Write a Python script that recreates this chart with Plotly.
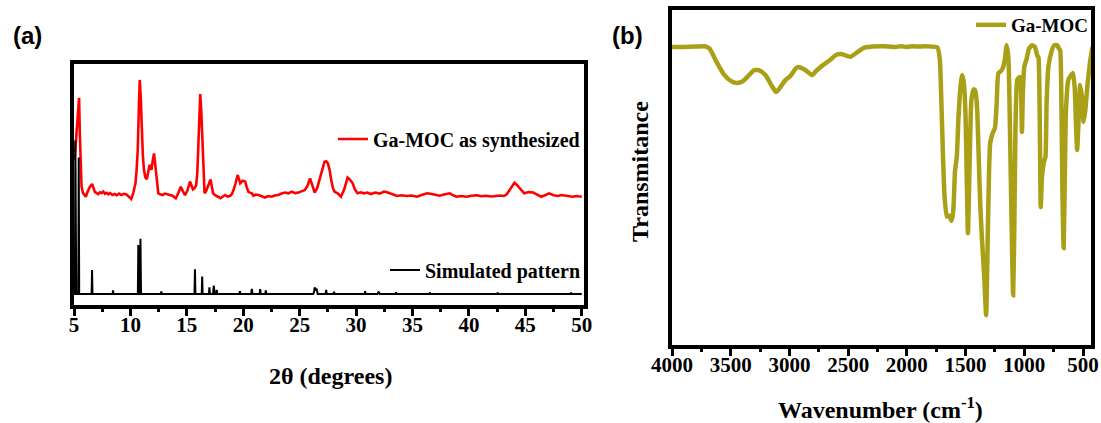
import plotly.graph_objects as go

# ---------------- (a) PXRD ----------------
# Ga-MOC as synthesized (2theta, relative intensity)
pxrd_exp_2theta = [5.05, 5.2, 5.3, 5.38, 5.45, 5.52, 5.6, 5.67, 5.8, 5.92, 6.05, 6.2, 6.4, 6.6, 6.72, 6.85,
                   7.0, 7.15, 7.3, 7.45, 7.6, 7.75, 7.9, 8.05, 8.2, 8.4, 8.6, 8.8, 9.0, 9.2, 9.4, 9.6, 9.8,
                   10.07, 10.25, 10.45, 10.55, 10.65, 10.75, 10.83, 10.92, 11.0, 11.1, 11.2, 11.32, 11.45,
                   11.58, 11.7, 11.8, 11.87, 11.97, 12.09, 12.18, 12.27, 12.37, 12.47, 12.65, 12.85, 13.05,
                   13.3, 13.5, 13.73, 13.9, 14.02, 14.25, 14.46, 14.65, 14.84, 15.05, 15.28, 15.42, 15.54,
                   15.7, 15.83, 15.93, 16.0, 16.1, 16.19, 16.28, 16.36, 16.47, 16.57, 16.7, 16.8, 16.95,
                   17.1, 17.22, 17.33, 17.5, 17.68, 17.85, 17.98, 18.2, 18.4, 18.6, 18.85, 19.0, 19.14,
                   19.32, 19.5, 19.62, 19.73, 19.95, 20.17, 20.3, 20.46, 20.6, 20.76, 20.9, 21.1, 21.35,
                   21.6, 21.93, 22.2, 22.5, 22.8, 23.1, 23.4, 23.7, 24.0, 24.3, 24.6, 24.9, 25.2, 25.45,
                   25.7, 25.92, 26.1, 26.33, 26.55, 26.77, 27.0, 27.2, 27.35, 27.5, 27.65, 27.8, 27.95,
                   28.1, 28.37, 28.66, 28.95, 29.25, 29.45, 29.7, 29.9, 30.13, 30.4, 30.7, 31.0, 31.3,
                   31.7, 32.1, 32.47, 32.75, 33.05, 33.35, 33.64, 34.0, 34.5, 34.9, 35.4, 35.8, 36.3,
                   36.6, 36.9, 37.4, 37.8, 38.3, 38.6, 38.9, 39.3, 39.8, 40.2, 40.7, 41.1, 41.5, 42.0,
                   42.4, 42.8, 43.1, 43.35, 43.6, 43.85, 44.04, 44.25, 44.5, 44.7, 44.9, 45.3, 45.7,
                   46.0, 46.4, 46.8, 47.1, 47.5, 47.9, 48.2, 48.6, 48.9, 49.2, 49.5, 49.8, 50.0]
pxrd_exp_int = [60, 70, 78, 84, 85.4, 70, 55, 49.1, 46.5, 45.6, 45, 47, 49, 50.2, 48.5, 47,
                46.5, 46.1, 46.8, 46.5, 47.1, 46.2, 46.6, 46, 46.5, 45.7, 46.1, 45.6, 46.3, 45.7, 46.2, 46, 45.3,
                44.1, 46.5, 50.5, 56, 64, 82, 92.7, 85, 71, 62, 56, 53, 52.1,
                54.5, 58, 57, 56, 59.5, 62.7, 59, 55, 50, 46.4, 46, 45.7, 46.3,
                46, 45.9, 45.4, 44.8, 44.4, 46.5, 49.1, 47.3, 45.7, 47.5, 51.2, 49.5, 48,
                48.6, 49.7, 55, 64, 78, 86.9, 80, 71, 55, 46.4, 47.2, 48.3, 50,
                52.1, 49, 46.4, 45.6, 45, 44.8, 44.4, 45.2, 45.7, 45.1, 45.4, 46.2, 47.7,
                50.5, 53.9, 52.3, 50.5, 51.5, 51.2, 49, 47, 46.7, 46.4, 45.4, 45.9, 45.7,
                45.2, 44.7, 45.3, 45, 45.5, 45.7, 46.3, 46.7, 46.4, 47.1, 46.5, 46.7, 47.3, 47.7,
                49.5, 52.5, 50, 46.7, 48.5, 51.7, 56, 59.3, 59.5, 58.6, 56, 51.7, 48.5,
                47, 46.4, 45, 48, 52.8, 52, 50.5, 48, 46.4, 46.8, 46.4, 46.7, 46.1,
                46.7, 46.3, 47.1, 46.8, 46.4, 45.7, 45.3, 45.6, 45.3, 45.5, 45, 45.7, 46.4,
                46.2, 46, 45.4, 45.9, 46.4, 45.6, 45, 45.3, 45, 45.4, 45.6, 45.2, 45.4, 45.1,
                45.3, 45.5, 45.3, 46, 47.7, 49.5, 50.7, 49.8, 48.5, 47.2, 46.4, 46.9, 46.7,
                46, 45, 45.7, 46.4, 45.6, 45.3, 45.7, 45.3, 45.1, 45, 45.3, 45, 45]

# Simulated pattern (2theta, relative intensity)
pxrd_sim_2theta = [5.0, 5.08, 5.12, 5.16, 5.2, 5.38, 5.42, 5.46, 5.6, 6.0, 6.56, 6.6, 6.64, 7.2, 8.0,
                   8.42, 8.46, 8.5, 9.2, 10.0, 10.66, 10.7, 10.76, 10.84, 10.89, 10.94, 11.5, 12.7,
                   12.74, 12.78, 13.6, 14.5, 15.68, 15.72, 15.76, 16.32, 16.36, 16.4, 16.8, 16.96, 17.0,
                   17.04, 17.32, 17.39, 17.46, 17.6, 17.65, 17.7, 18.5, 19.66, 19.7, 19.74, 20.2, 20.7,
                   20.76, 20.82, 21.1, 21.45, 21.5, 21.55, 21.95, 22.0, 22.05, 23.0, 24.0, 25.0, 26.2,
                   26.28, 26.33, 26.42, 26.5, 26.6, 26.9, 27.3, 27.35, 27.4, 28.0, 28.05, 28.1, 29.0,
                   29.6, 30.75, 30.8, 30.85, 31.5, 31.9, 32.0, 32.1, 33.5, 33.55, 33.6, 34.5, 35.5,
                   36.5, 36.55, 36.6, 38.0, 39.0, 40.2, 41.0, 42.5, 42.55, 42.6, 44.0, 45.0, 46.5, 47.5,
                   49.0, 49.05, 49.1, 50.0]
pxrd_sim_int = [5.3, 5.3, 68, 5.3, 5.3, 5.3, 61, 5.3, 5.3, 5.3, 5.3, 15.1, 5.3, 5.3, 5.3,
                5.3, 6.8, 5.3, 5.3, 5.3, 5.3, 25.3, 5.3, 5.3, 27.8, 5.3, 5.3, 5.3,
                6.3, 5.3, 5.3, 5.3, 5.3, 15.4, 5.3, 5.3, 12.4, 5.3, 5.3, 5.3, 8.0,
                5.3, 5.3, 8.7, 5.3, 5.3, 7.0, 5.3, 5.3, 5.3, 6.5, 5.3, 5.3, 5.3,
                7.4, 5.3, 5.3, 5.3, 7.3, 5.3, 5.3, 6.8, 5.3, 5.3, 5.3, 5.3, 5.3,
                6.2, 8.0, 6.8, 7.5, 5.3, 5.3, 5.3, 7.0, 5.3, 5.3, 6.2, 5.3, 5.3,
                5.3, 5.3, 6.4, 5.3, 5.3, 5.3, 6.2, 5.3, 5.3, 6.0, 5.3, 5.3, 5.3,
                5.3, 5.9, 5.3, 5.3, 5.3, 5.3, 5.3, 5.3, 5.9, 5.3, 5.3, 5.3, 5.3, 5.3,
                5.3, 5.8, 5.3, 5.3]

# ---------------- (b) FT-IR ----------------
ir_wavenumber = [4000, 3900, 3800, 3720, 3680, 3620, 3560, 3500, 3450, 3400, 3350, 3300, 3250, 3200,
                 3150, 3114, 3080, 3040, 2990, 2950, 2927, 2880, 2850, 2808, 2770, 2720, 2660, 2600,
                 2560, 2520, 2480, 2440, 2380, 2340, 2300, 2200, 2100, 2050, 2000, 1950, 1900, 1850,
                 1780, 1740, 1720, 1700, 1680, 1660, 1640, 1620, 1605, 1590, 1575, 1560, 1540, 1530,
                 1515, 1500, 1490, 1480, 1465, 1450, 1430, 1420, 1410, 1400, 1390, 1375, 1360, 1340,
                 1325, 1310, 1300, 1290, 1270, 1250, 1235, 1220, 1195, 1180, 1165, 1150, 1135, 1120,
                 1105, 1095, 1085, 1075, 1060, 1045, 1035, 1025, 1020, 1012, 1000, 980, 960, 935, 910,
                 890, 880, 870, 860, 850, 840, 830, 820, 810, 795, 770, 745, 720, 705, 695, 685, 675,
                 665, 655, 645, 625, 605, 585, 570, 560, 550, 540, 525, 510, 495, 480, 460, 440, 420]
ir_transmittance = [88.5, 88.5, 88.6, 88.7, 88.0, 84, 80.5, 78.5, 77.9, 78.3, 80, 81.7, 81.5, 80,
                    77, 75.2, 76.5, 78.5, 80, 82, 82.6, 82, 81.3, 80.2, 81.5, 83, 84.5, 86.2,
                    86.4, 86, 85.6, 86.5, 88, 88.5, 88.6, 88.7, 88.5, 88.7, 88.5, 88.7, 88.6, 88.7,
                    88.6, 88.4, 85, 65, 45, 38.5, 38.8, 37.2, 40, 52, 56, 68, 78, 80.2,
                    78, 68, 50, 33.6, 55, 73, 76, 75.8, 74, 69, 58, 42, 31.6, 20,
                    9.4, 35, 52, 60.2, 63, 64.6, 72, 80.8, 81.5, 82.6, 85, 89, 85, 60,
                    30, 15.3, 35, 65, 78.8, 79.5, 79.6, 72, 63.4, 75, 82.6, 85, 88, 89, 88.5,
                    86, 85.5, 72, 41.3, 50, 53, 55, 56, 72, 82.6, 87, 89, 89, 88, 87.6, 75, 45,
                    29.2, 50, 70, 78.8, 80, 80.8, 76, 66, 58.1, 65, 77.3, 74, 66.4, 70, 78, 84, 88.5]

# axis ticks
xrd_ticks = [5, 10, 15, 20, 25, 30, 35, 40, 45, 50]
ir_ticks = [4000, 3500, 3000, 2500, 2000, 1500, 1000, 500]

W, H = 1101, 423
SERIF = "Liberation Serif"
RED = "#ff0000"
OLIVE = "#aaa018"

fig = go.Figure()

fig.add_trace(go.Scatter(x=pxrd_exp_2theta, y=pxrd_exp_int, mode="lines",
                         line=dict(color=RED, width=2.6), name="Ga-MOC as synthesized",
                         xaxis="x", yaxis="y", legend="legend2"))
fig.add_trace(go.Scatter(x=pxrd_sim_2theta, y=pxrd_sim_int, mode="lines",
                         line=dict(color="black", width=2), name="Simulated pattern",
                         xaxis="x", yaxis="y", legend="legend3"))
fig.add_trace(go.Scatter(x=ir_wavenumber, y=ir_transmittance, mode="lines",
                         line=dict(color=OLIVE, width=4.5, shape="spline", smoothing=0.5),
                         name="Ga-MOC", xaxis="x2", yaxis="y2", legend="legend4"))


def px(x):
    return x / W


def py(y):
    return 1 - y / H


frame = dict(showline=True, linecolor="black", linewidth=4, mirror=True,
             showgrid=False, zeroline=False, automargin=False)
tickfont = dict(family=SERIF, size=21, color="black", weight="bold")
titlefont = dict(family=SERIF, size=24, color="black", weight="bold")
legfont = dict(family=SERIF, size=20, color="black", weight="bold")


def legend_at(x, y, size=20):
    return dict(x=px(x), y=py(y), xanchor="left", yanchor="middle", bgcolor="rgba(0,0,0,0)",
                borderwidth=0, font=dict(legfont, size=size))


def label(text, x, y, font, angle=0):
    return dict(text=text, x=px(x), y=py(y), xref="paper", yref="paper", xanchor="center",
                yanchor="middle", showarrow=False, textangle=angle, font=font)


panel_font = dict(family="Liberation Sans", size=24, color="black", weight="bold")

fig.update_layout(
    width=W, height=H,
    margin=dict(l=0, r=0, t=0, b=0, autoexpand=False),
    paper_bgcolor="white", plot_bgcolor="white",
    showlegend=True,
    xaxis=dict(domain=[px(74), px(584)], range=[5, 50.2], tickvals=xrd_ticks,
               ticks="outside", ticklen=7, tickwidth=3, tickcolor="black", ticklabelstandoff=-9,
               minor=dict(ticks="outside", ticklen=3, tickwidth=3, dtick=2.5, tickcolor="black"),
               tickfont=tickfont, anchor="y", **frame),
    yaxis=dict(domain=[py(305), py(64)], range=[0.8, 99.2], showticklabels=False,
               ticks="", anchor="x", **frame),
    xaxis2=dict(domain=[px(672), px(1091)], range=[4000, 432], tickvals=ir_ticks,
                ticks="outside", ticklen=7, tickwidth=3, tickcolor="black", ticklabelstandoff=-9,
                minor=dict(ticks="outside", ticklen=3, tickwidth=3, dtick=250, tickcolor="black"),
                tickfont=tickfont, anchor="y2", **frame),
    yaxis2=dict(domain=[py(345), py(10)], range=[0.6, 99.4], showticklabels=False,
                ticks="", anchor="x2", **frame),
    legend2=legend_at(333, 139),
    legend3=legend_at(385, 270),
    legend4=legend_at(971, 25, 19),
    annotations=[
        label("(a)", 27, 35, panel_font),
        label("(b)", 627, 35, panel_font),
        label("2θ (degrees)", 330, 376, titlefont),
        label("Wavenumber (cm<sup>-1</sup>)", 880, 408, titlefont),
        label("Transmitance", 640, 172, titlefont, -90),
    ],
)

fig.write_html("out.html")
